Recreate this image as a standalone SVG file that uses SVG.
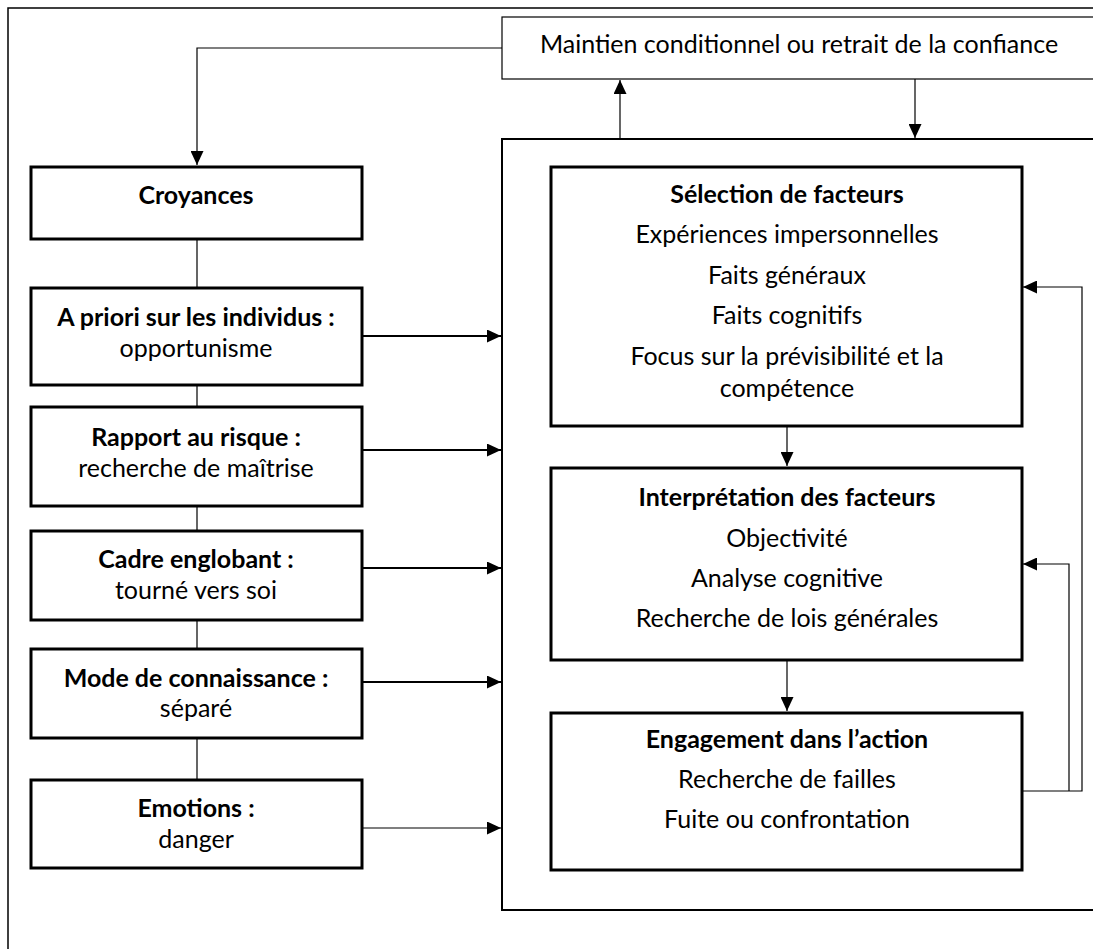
<svg xmlns="http://www.w3.org/2000/svg" width="1093" height="949" viewBox="0 0 1093 949">
<style>
  text { font-family: Lato, "Open Sans", "Liberation Sans", sans-serif; font-size: 25px; fill: #000; text-anchor: middle; }
  .b { font-weight: bold; }
  .thick { fill: #fff; stroke: #000; stroke-width: 3; }
  .cont { fill: none; stroke: #000; stroke-width: 2; }
  .thin { fill: #fff; stroke: #000; stroke-width: 1.2; }
  .frame { fill: none; stroke: #000; stroke-width: 1.5; }
  .c1 { fill: none; stroke: #000; stroke-width: 1.2; }
  .c2 { fill: none; stroke: #000; stroke-width: 2; }
  .arr { marker-end: url(#ah); }
</style>
<defs>
  <marker id="ah" markerUnits="userSpaceOnUse" markerWidth="14" markerHeight="13" refX="14" refY="6.5" orient="auto">
    <path d="M0,0 L14,6.5 L0,13 z" fill="#000"/>
  </marker>
</defs>
<rect width="1093" height="949" fill="#fff"/>
<g id="frame">
  <path class="frame" d="M8,960 L8,8 L1100,8"/>
</g>
<g id="container">
  <path class="cont" d="M1100,139 L502,139 L502,910 L1100,910"/>
</g>
<g id="connectors">
  <path class="c1 arr" d="M502,48 L197,48 L197,165"/>
  <path class="c1 arr" d="M620,139 L620,80"/>
  <path class="c1 arr" d="M915,79 L915,138"/>
  <path class="c1" d="M197,239 L197,288 M197,385 L197,407 M197,506 L197,531 M197,620 L197,649 M197,738 L197,780"/>
  <path class="c2 arr" d="M362,336 L501,336"/>
  <path class="c2 arr" d="M362,450 L501,450"/>
  <path class="c2 arr" d="M362,568 L501,568"/>
  <path class="c2 arr" d="M362,682 L501,682"/>
  <path class="c1 arr" d="M362,828 L501,828"/>
  <path class="c1 arr" d="M787,427 L787,466"/>
  <path class="c1 arr" d="M787,661 L787,711"/>
  <path class="c1 arr" d="M1022,791 L1082,791 L1082,287 L1023,287"/>
  <path class="c1 arr" d="M1069,791 L1069,564 L1023,564"/>
</g>
<g id="maintien">
  <rect class="thin" x="502" y="17" width="600" height="62"/>
  <text x="799" y="53">Maintien conditionnel ou retrait de la confiance</text>
</g>
<g id="croyances">
  <rect class="thick" x="31" y="167" width="331" height="72"/>
  <text class="b" x="196" y="204">Croyances</text>
</g>
<g id="apriori">
  <rect class="thick" x="31" y="288" width="331" height="97"/>
  <text class="b" x="196" y="326">A priori sur les individus :</text>
  <text x="196" y="357">opportunisme</text>
</g>
<g id="risque">
  <rect class="thick" x="31" y="407" width="331" height="99"/>
  <text class="b" x="196" y="446">Rapport au risque :</text>
  <text x="196" y="477">recherche de maîtrise</text>
</g>
<g id="cadre">
  <rect class="thick" x="31" y="531" width="331" height="89"/>
  <text class="b" x="196" y="568">Cadre englobant :</text>
  <text x="196" y="599">tourné vers soi</text>
</g>
<g id="mode">
  <rect class="thick" x="31" y="649" width="331" height="89"/>
  <text class="b" x="196" y="687">Mode de connaissance :</text>
  <text x="196" y="717">séparé</text>
</g>
<g id="emotions">
  <rect class="thick" x="31" y="780" width="331" height="88"/>
  <text class="b" x="196" y="817">Emotions :</text>
  <text x="196" y="848">danger</text>
</g>
<g id="selection">
  <rect class="thick" x="551" y="167" width="471" height="259"/>
  <text class="b" x="787" y="203">Sélection de facteurs</text>
  <text x="787" y="243">Expériences impersonnelles</text>
  <text x="787" y="284">Faits généraux</text>
  <text x="787" y="324">Faits cognitifs</text>
  <text x="787" y="365">Focus sur la prévisibilité et la</text>
  <text x="787" y="397">compétence</text>
</g>
<g id="interpretation">
  <rect class="thick" x="551" y="468" width="471" height="192"/>
  <text class="b" x="787" y="506">Interprétation des facteurs</text>
  <text x="787" y="547">Objectivité</text>
  <text x="787" y="587">Analyse cognitive</text>
  <text x="787" y="627">Recherche de lois générales</text>
</g>
<g id="engagement">
  <rect class="thick" x="551" y="713" width="471" height="157"/>
  <text class="b" x="787" y="748">Engagement dans l’action</text>
  <text x="787" y="788">Recherche de failles</text>
  <text x="787" y="828">Fuite ou confrontation</text>
</g>
</svg>
